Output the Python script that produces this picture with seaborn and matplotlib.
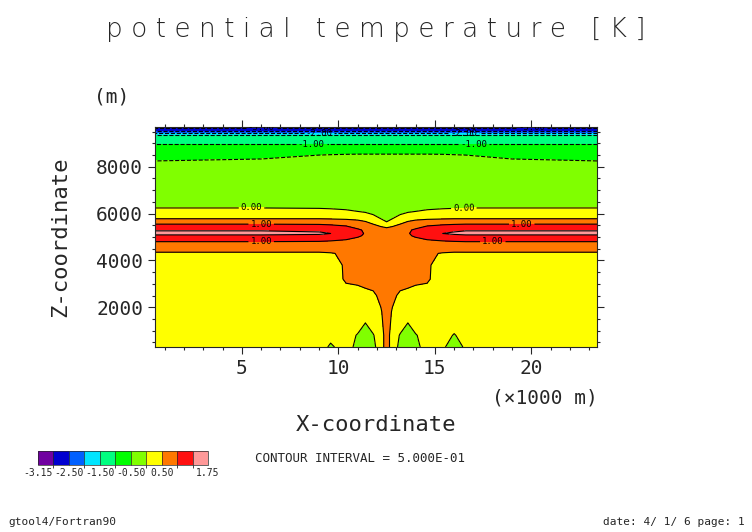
import numpy as np
import matplotlib
matplotlib.use("Agg")
import matplotlib.pyplot as plt
import matplotlib.colors as mcolors
import matplotlib.colorbar as mcbar
import seaborn as sns

sns.set_style("ticks")
plt.rcParams['font.family'] = ['DejaVu Sans Mono', 'DejaVu Sans']

x_km = [0.5, 6.0, 9.0, 9.6, 10.4, 11.0, 11.4, 11.8, 12.2, 12.5, 12.8, 13.2, 13.6, 14.0, 14.6, 15.4, 16.0, 16.6, 19.0, 23.4]
z_m = [300, 800, 1300, 1800, 2500, 3200, 3800, 4300, 4600, 4800, 5050, 5150, 5300, 5550, 5780, 6250, 7000, 8000, 8500, 8900, 9300, 9450, 9600, 9700]
theta = [
 [0.3, 0.3, 0.3, -0.1, 0.3, -0.2, -0.35, -0.2, 0.4, 0.6, 0.4, -0.2, -0.35, -0.2, 0.3, 0.1, -0.3, 0.1, 0.3, 0.3],
 [0.3, 0.3, 0.3, 0.2, 0.3, -0.05, -0.2, -0.05, 0.4, 0.6, 0.4, -0.05, -0.2, -0.05, 0.3, 0.3, -0.05, 0.3, 0.3, 0.3],
 [0.3, 0.3, 0.3, 0.3, 0.3, 0.3, -0.02, 0.3, 0.45, 0.6, 0.45, 0.3, -0.02, 0.3, 0.3, 0.3, 0.3, 0.3, 0.3, 0.3],
 [0.3, 0.3, 0.3, 0.3, 0.3, 0.3, 0.3, 0.35, 0.48, 0.6, 0.48, 0.35, 0.3, 0.3, 0.3, 0.3, 0.3, 0.3, 0.3, 0.3],
 [0.3, 0.3, 0.3, 0.3, 0.35, 0.4, 0.42, 0.46, 0.55, 0.6, 0.55, 0.46, 0.42, 0.4, 0.35, 0.3, 0.3, 0.3, 0.3, 0.3],
 [0.3, 0.3, 0.3, 0.3, 0.55, 0.56, 0.6, 0.6, 0.6, 0.6, 0.6, 0.6, 0.6, 0.56, 0.55, 0.3, 0.3, 0.3, 0.3, 0.3],
 [0.3, 0.3, 0.3, 0.35, 0.55, 0.6, 0.6, 0.6, 0.6, 0.6, 0.6, 0.6, 0.6, 0.6, 0.55, 0.35, 0.3, 0.3, 0.3, 0.3],
 [0.45, 0.45, 0.45, 0.48, 0.55, 0.6, 0.6, 0.6, 0.6, 0.6, 0.6, 0.6, 0.6, 0.6, 0.55, 0.48, 0.45, 0.45, 0.45, 0.45],
 [0.75, 0.75, 0.74, 0.72, 0.7, 0.66, 0.64, 0.64, 0.65, 0.65, 0.65, 0.64, 0.64, 0.66, 0.7, 0.72, 0.74, 0.75, 0.75, 0.75],
 [1.0, 1.0, 0.98, 0.95, 0.9, 0.85, 0.8, 0.75, 0.7, 0.7, 0.7, 0.75, 0.8, 0.85, 0.9, 0.95, 0.98, 1.0, 1.0, 1.0],
 [1.4, 1.4, 1.38, 1.33, 1.2, 1.05, 0.95, 0.85, 0.78, 0.75, 0.78, 0.85, 0.95, 1.05, 1.2, 1.33, 1.38, 1.4, 1.4, 1.4],
 [1.65, 1.65, 1.58, 1.5, 1.3, 1.1, 0.97, 0.87, 0.8, 0.75, 0.8, 0.87, 0.97, 1.1, 1.3, 1.5, 1.58, 1.65, 1.65, 1.65],
 [1.45, 1.45, 1.4, 1.35, 1.22, 1.05, 0.95, 0.85, 0.78, 0.72, 0.78, 0.85, 0.95, 1.05, 1.22, 1.35, 1.4, 1.45, 1.45, 1.45],
 [1.0, 1.0, 0.98, 0.95, 0.9, 0.8, 0.7, 0.5, 0.3, 0.15, 0.3, 0.5, 0.7, 0.8, 0.9, 0.95, 0.98, 1.0, 1.0, 1.0],
 [0.5, 0.5, 0.5, 0.48, 0.45, 0.4, 0.3, 0.15, 0.0, -0.2, 0.0, 0.15, 0.3, 0.4, 0.45, 0.48, 0.5, 0.5, 0.5, 0.5],
 [-0.01, -0.01, -0.03, -0.05, -0.1, -0.2, -0.22, -0.25, -0.25, -0.25, -0.25, -0.25, -0.22, -0.2, -0.1, -0.05, -0.03, -0.01, -0.01, -0.01],
 [-0.3] * 20,
 [-0.4] * 20,
 [-0.6, -0.55, -0.5, -0.48, -0.46, -0.45, -0.45, -0.45, -0.45, -0.45, -0.45, -0.45, -0.45, -0.45, -0.45, -0.46, -0.48, -0.5, -0.55, -0.6],
 [-0.95] * 20,
 [-1.3] * 20,
 [-2.1] * 20,
 [-2.7] * 20,
 [-3.1] * 20,
]
levels = [-3.15, -3.0, -2.5, -2.0, -1.5, -1.0, -0.5, 0.0, 0.5, 1.0, 1.5, 1.75]
colors = ['#7000A0', '#0000D0', '#0060FF', '#00E5FF', '#00FF80', '#00FF00',
          '#80FF00', '#FFFF00', '#FF7800', '#FF1010', '#FF9999']
cbar_ticks = [-3.15, -2.5, -1.5, -0.5, 0.5, 1.75]
plain_levels = [-2.5, -1.5, -0.5, 0.5, 1.5]
label_levels = [-3.0, -2.0, -1.0, 0.0, 1.0]
label_spots = [(6.0, 9690), (20.0, 9690), (9.0, 9440), (16.5, 9440), (8.6, 8900), (17.0, 8900),
               (5.5, 6250), (16.5, 6250), (6.0, 5550), (19.5, 5550), (6.0, 4800), (18.0, 4800)]

X, Z = np.meshgrid(x_km, z_m)
T = np.array(theta)

fig = plt.figure(figsize=(7.52, 5.32), dpi=100)
ax = fig.add_axes([155/752, 185/532, 442/752, 220/532])
ax.contourf(X, Z, T, levels=levels, colors=colors)
cs1 = ax.contour(X, Z, T, levels=plain_levels, colors='black', linewidths=0.8)
cs1.set_linestyles(['dashed' if v < 0 else 'solid' for v in cs1.levels])
cs2 = ax.contour(X, Z, T, levels=label_levels, colors='black', linewidths=0.8)
cs2.set_linestyles(['dashed' if v < 0 else 'solid' for v in cs2.levels])
ax.clabel(cs2, fmt='%.2f', fontsize=6.5, inline=True, inline_spacing=2, manual=label_spots)

ax.set_xlim(0.5, 23.4)
ax.set_ylim(300, 9700)
ax.set_xticks([5, 10, 15, 20])
ax.set_xticks(np.arange(1, 24), minor=True)
ax.set_yticks([2000, 4000, 6000, 8000])
ax.set_yticks(np.arange(500, 9700, 500), minor=True)
ax.tick_params(which='both', direction='inout', top=True, right=True, labelsize=14, length=10, width=0.8)
ax.tick_params(which='minor', length=5)
for s in ax.spines.values():
    s.set_linewidth(0.8)

fig.text(376/752, 1 - 30/532, 'p o t e n t i a l   t e m p e r a t u r e   [ K ]', ha='center', va='center',
         fontsize=19, family='DejaVu Sans', fontweight='light')
fig.text(112/752, 1 - 97/532, '(m)', ha='center', va='center', fontsize=14)
fig.text(60/752, 1 - 237/532, 'Z-coordinate', ha='center', va='center', fontsize=16, rotation=90)
fig.text(376/752, 1 - 425/532, 'X-coordinate', ha='center', va='center', fontsize=16)
fig.text(545/752, 1 - 398/532, '(×1000 m)', ha='center', va='center', fontsize=14)
fig.text(255/752, 1 - 458/532, 'CONTOUR INTERVAL = 5.000E-01', ha='left', va='center', fontsize=9)
fig.text(8/752, 1 - 522/532, 'gtool4/Fortran90', ha='left', va='center', fontsize=8)
fig.text(745/752, 1 - 522/532, 'date: 4/ 1/ 6 page: 1', ha='right', va='center', fontsize=8)

cax = fig.add_axes([38/752, 1 - 465/532, 170/752, 14/532])
cmap = mcolors.ListedColormap(colors)
norm = mcolors.BoundaryNorm(levels, cmap.N)
cb = mcbar.ColorbarBase(cax, cmap=cmap, norm=norm, boundaries=levels, spacing='uniform',
                        orientation='horizontal', ticks=cbar_ticks, drawedges=True)
cb.ax.set_xticklabels(['-3.15', '-2.50', '-1.50', '-0.50', '0.50', '1.75'])
cb.ax.tick_params(labelsize=7, length=0, pad=2)
cb.outline.set_linewidth(0.5)
cb.dividers.set_linewidth(0.5)

fig.savefig('out.png', dpi=100)
